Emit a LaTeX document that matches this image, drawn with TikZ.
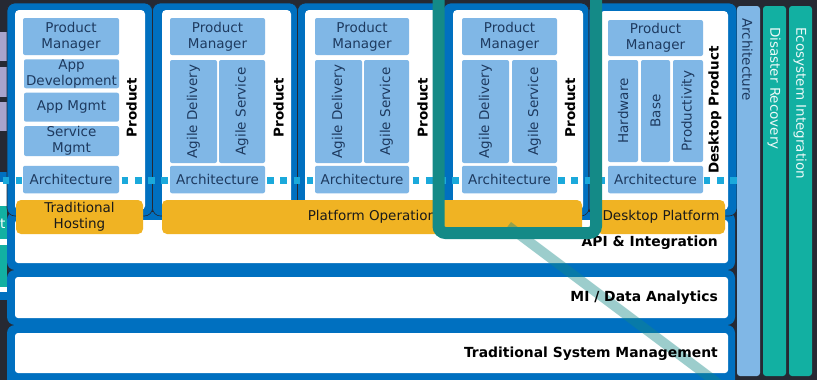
\documentclass[tikz,border=0pt]{standalone}
\usepackage{fontspec}
\setmainfont{DejaVu Sans}
\definecolor{bg}{HTML}{262933}
\definecolor{mblue}{HTML}{0070C0}
\definecolor{lblue}{HTML}{80B7E6}
\definecolor{navy}{HTML}{1E3A5F}
\definecolor{gold}{HTML}{F0B323}
\definecolor{tealbar}{HTML}{12B0A2}
\definecolor{tealframe}{HTML}{148A87}
\definecolor{dashcyan}{HTML}{1BA9DB}
\definecolor{lav}{HTML}{A8A4CC}
\definecolor{goldtext}{HTML}{1A1A1A}
\newcommand\diagfont{\fontsize{13.5}{16}\selectfont}
\newcommand\layerfont{\fontsize{13.9}{16}\selectfont}
\tikzset{
  colouter/.style={fill=mblue, draw=bg, line width=0.6pt, rounded corners=8pt},
  colinner/.style={fill=white, rounded corners=4pt},
  bandouter/.style={fill=mblue, rounded corners=8pt},
  bandinner/.style={fill=white, rounded corners=3pt},
  lbox/.style={fill=lblue, rounded corners=2pt, inner sep=0pt, align=center, text=navy, font=\diagfont},
  prodlabel/.style={rotate=90, inner sep=0pt, font=\bfseries\diagfont, text=black},
  goldbar/.style={fill=gold, rounded corners=5pt, inner sep=0pt, align=center, text=goldtext, font=\diagfont},
  bandlabel/.style={anchor=east, inner sep=0pt, font=\bfseries\layerfont, text=black},
  sidebar/.style={rounded corners=3pt},
  sidetext/.style={rotate=-90, anchor=west, inner sep=0pt, font=\diagfont},
  archdash/.style={dashcyan, line width=7pt, dash pattern=on 6.6pt off 6.63pt},
  diagline/.style={tealframe, opacity=0.42, line width=10pt},
  focusframe/.style={draw=tealframe, line width=12pt, rounded corners=7pt}
}
\begin{document}
\begin{tikzpicture}[x=1pt,y=-1pt]
\useasboundingbox (0,0) rectangle (817,380);
\fill[bg] (0,0) rectangle (817,380);

% blocks cut off at the left edge
\fill[lav] (-10,32) rectangle (7,61);
\fill[lav] (-10,67) rectangle (7,97);
\fill[lav] (-10,102) rectangle (7,131);
\fill[mblue] (-10,172) rectangle (7,182);
\fill[white] (-10,182) rectangle (7,292);
\fill[tealbar] (-10,206) rectangle (7,239);
\fill[tealbar] (-10,245) rectangle (7,287);
\fill[mblue] (-10,292) rectangle (7,300);
\node[anchor=east, inner sep=0pt, text=white, font=\diagfont] (cut) at (5.5,224) {t};

% horizontal layers
\path[bandouter] (7,325) rectangle (735,388);
\path[bandinner] (15,333) rectangle (728,373);
\path[bandouter] (7,270) rectangle (735,325);
\path[bandinner] (15,277) rectangle (728,318);
\path[bandouter] (7,212) rectangle (735,270);
\path[bandinner] (15,220) rectangle (728,263);

% product columns
\path[colouter] (7,3) rectangle (152.5,216);
\path[colinner] (15,10) rectangle (145,210);
\path[colouter] (152.5,3) rectangle (297.5,216);
\path[colinner] (162,10) rectangle (291,210);
\path[colouter] (297.5,3) rectangle (443,216);
\path[colinner] (305,10) rectangle (437,210);
\path[colouter] (443,3) rectangle (589,216);
\path[colinner] (453,10) rectangle (583,210);
\path[colouter] (589,3) rectangle (737,216);
\path[colinner] (600,11) rectangle (728,210);

% architecture thread running through all columns
\coordinate (dashL) at (2.6,180);
\coordinate (dashR) at (740,180);
\draw[archdash] (dashL) -- (dashR);

% column 1
\node[lbox, minimum width=96, minimum height=37] (pm1) at (71,36.5) {Product\\Manager};
\node[lbox, minimum width=95, minimum height=29] (dev1) at (71.5,73.8) {App\\Development};
\node[lbox, minimum width=95, minimum height=29] (mgmt1) at (71.5,107.2) {App Mgmt};
\node[lbox, minimum width=95, minimum height=30] (svc1) at (71.5,141) {Service\\Mgmt};
\node[lbox, minimum width=96, minimum height=27.5] (arch1) at (71,179.5) {Architecture};
\node[prodlabel] (p1) at (131.5,107.5) {Product};

% column 2
\node[lbox, minimum width=95, minimum height=37] (pm2) at (217.5,36.5) {Product\\Manager};
\node[lbox, rotate=90, minimum width=103, minimum height=47] (ad2) at (193.5,111.5) {Agile Delivery};
\node[lbox, rotate=90, minimum width=103, minimum height=46] (as2) at (242,111.5) {Agile Service};
\node[lbox, minimum width=95, minimum height=27.5] (arch2) at (217.5,179.5) {Architecture};
\node[prodlabel] (p2) at (278.5,107.5) {Product};

% column 3
\node[lbox, minimum width=94, minimum height=37] (pm3) at (362,36.5) {Product\\Manager};
\node[lbox, rotate=90, minimum width=103, minimum height=47] (ad3) at (338.5,111.5) {Agile Delivery};
\node[lbox, rotate=90, minimum width=103, minimum height=45] (as3) at (386.5,111.5) {Agile Service};
\node[lbox, minimum width=94, minimum height=27.5] (arch3) at (362,179.5) {Architecture};
\node[prodlabel] (p3) at (422.5,107.5) {Product};

% column 4
\node[lbox, minimum width=95, minimum height=37] (pm4) at (509.5,36.5) {Product\\Manager};
\node[lbox, rotate=90, minimum width=103, minimum height=47] (ad4) at (485.5,111.5) {Agile Delivery};
\node[lbox, rotate=90, minimum width=103, minimum height=45] (as4) at (534.5,111.5) {Agile Service};
\node[lbox, minimum width=95, minimum height=27.5] (arch4) at (509.5,179.5) {Architecture};
\node[prodlabel] (p4) at (570,107.5) {Product};

% column 5
\node[lbox, minimum width=95, minimum height=36] (pm5) at (655.5,38) {Product\\Manager};
\node[lbox, rotate=90, minimum width=102, minimum height=30] (hw5) at (623,111) {Hardware};
\node[lbox, rotate=90, minimum width=102, minimum height=29] (base5) at (655.5,111) {Base};
\node[lbox, rotate=90, minimum width=102, minimum height=30] (prod5) at (688,111) {Productivity};
\node[lbox, minimum width=95, minimum height=27.5] (arch5) at (655.5,179.5) {Architecture};
\node[prodlabel] (p5) at (715,110) {Desktop Product};

% platform bars
\node[goldbar, minimum width=127, minimum height=34] (host) at (79.5,217) {Traditional\\Hosting};
\node[goldbar, minimum width=420, minimum height=34] (plat) at (372,217) {Platform Operation};
\node[goldbar, minimum width=128, minimum height=34] (desk) at (661,217) {Desktop Platform};

% highlight trail
\coordinate (trailA) at (508,226);
\coordinate (trailB) at (724,388);
\draw[diagline] (trailA) -- (trailB);

% layer labels
\node[bandlabel] (api) at (718,243) {API \& Integration};
\node[bandlabel] (mi) at (718,298) {MI / Data Analytics};
\node[bandlabel] (tsm) at (718,354) {Traditional System Management};

% highlight frame
\draw[focusframe] (438.5,-20) rectangle (596,233);

% cross-cutting bars
\fill[lblue, sidebar] (737,6) rectangle (760,376);
\node[sidetext, text=navy] (archv) at (747.5,18) {Architecture};
\fill[tealbar, sidebar] (763,6) rectangle (786,376);
\node[sidetext, text=white!92!tealbar] (drv) at (774,27) {Disaster Recovery};
\fill[tealbar, sidebar] (789,6) rectangle (812,376);
\node[sidetext, text=white!92!tealbar] (ecov) at (800,27) {Ecosystem Integration};
\end{tikzpicture}
\end{document}
